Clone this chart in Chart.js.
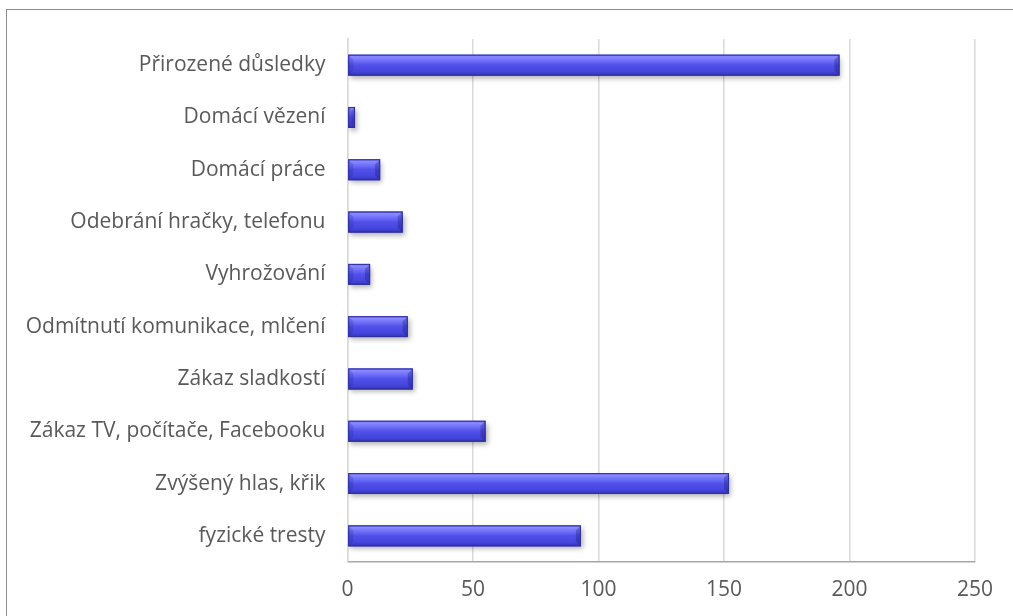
<!DOCTYPE html>
<html>
<head>
<meta charset="utf-8">
<script src="https://cdn.jsdelivr.net/npm/chart.js@4.4.1/dist/chart.umd.min.js"></script>
<style>
html,body{margin:0;padding:0;background:#fff;overflow:hidden;}
#frame{position:absolute;left:6px;top:9px;width:1020px;height:620px;border:1.5px solid #8c8c8c;box-sizing:border-box;}
#wrap{position:absolute;left:0;top:0;width:1013px;height:616px;}
</style>
</head>
<body>
<div id="frame"></div>
<div id="wrap"><canvas id="c" width="1013" height="616"></canvas></div>
<script>
const categories = [
  "Přirozené důsledky",
  "Domácí vězení",
  "Domácí práce",
  "Odebrání hračky, telefonu",
  "Vyhrožování",
  "Odmítnutí komunikace, mlčení",
  "Zákaz sladkostí",
  "Zákaz TV, počítače, Facebooku",
  "Zvýšený hlas, křik",
  "fyzické tresty"
];
const values = [196, 3, 13, 22, 9, 24, 26, 55, 152, 93];
const xMin = 0;
const xMax = 250;
const xStep = 50;

const bevelPlugin = {
  id: 'bevel',
  beforeDatasetsDraw(chart) {
    const ctx = chart.ctx;
    ctx.save();
    ctx.shadowColor = 'rgba(0,0,0,0.3)';
    ctx.shadowBlur = 5;
    ctx.shadowOffsetX = 2;
    ctx.shadowOffsetY = 3;
  },
  afterDatasetsDraw(chart) {
    const ctx = chart.ctx;
    ctx.restore();
    const meta = chart.getDatasetMeta(0);
    ctx.save();
    meta.data.forEach(bar => {
      const top = bar.y - bar.height/2;
      const bot = bar.y + bar.height/2;
      const left = bar.base;
      const right = bar.x;
      const w = right - left;
      const h = bot - top;
      const g = ctx.createLinearGradient(0, top, 0, bot);
      g.addColorStop(0, '#6464f2');
      g.addColorStop(0.1, '#8a8aff');
      g.addColorStop(0.3, '#6e6ef8');
      g.addColorStop(0.5, '#5050ea');
      g.addColorStop(0.8, '#4646de');
      g.addColorStop(0.92, '#3a3ac6');
      g.addColorStop(1, '#2e2e9a');
      ctx.fillStyle = g;
      ctx.fillRect(left, top, w, h);
      const b = Math.min(5, w/2);
      ctx.fillStyle = 'rgba(20,20,110,0.3)';
      ctx.beginPath();
      ctx.moveTo(right - b, top + b);
      ctx.lineTo(right, top);
      ctx.lineTo(right, bot);
      ctx.lineTo(right - b, bot - b);
      ctx.closePath();
      ctx.fill();
      ctx.fillStyle = 'rgba(30,30,130,0.2)';
      ctx.beginPath();
      ctx.moveTo(left, top);
      ctx.lineTo(left + b, top + b);
      ctx.lineTo(left + b, bot - b);
      ctx.lineTo(left, bot);
      ctx.closePath();
      ctx.fill();
      ctx.strokeStyle = '#30309e';
      ctx.lineWidth = 1;
      ctx.strokeRect(left + 0.5, top + 0.5, w - 1, h - 1);
    });
    ctx.restore();
  }
};

new Chart(document.getElementById('c'), {
  type: 'bar',
  data: {
    labels: categories,
    datasets: [{
      data: values,
      backgroundColor: '#4a4ae4',
      borderWidth: 0,
      barPercentage: 0.4,
      categoryPercentage: 1.0
    }]
  },
  plugins: [bevelPlugin],
  options: {
    indexAxis: 'y',
    responsive: false,
    animation: false,
    layout: { padding: { left: 0, right: 38, top: 39, bottom: 0 } },
    plugins: { legend: { display: false }, tooltip: { enabled: false } },
    scales: {
      x: {
        min: xMin, max: xMax,
        ticks: { stepSize: xStep, color: '#595959', font: { family: 'Open Sans', size: 21 }, padding: 15 },
        grid: { color: '#d9d9d9', lineWidth: 1.5, drawTicks: false },
        border: { display: true, color: '#a6a6a6', width: 1.5 },
        afterFit(s) { s.height = 54; }
      },
      y: {
        ticks: { color: '#595959', font: { family: 'Open Sans', size: 21 }, padding: 22 },
        grid: { display: false, drawTicks: false },
        border: { display: true, color: '#d9d9d9', width: 1.5 },
        afterFit(s) { s.width = 347.5; }
      }
    }
  }
});
</script>
</body>
</html>
